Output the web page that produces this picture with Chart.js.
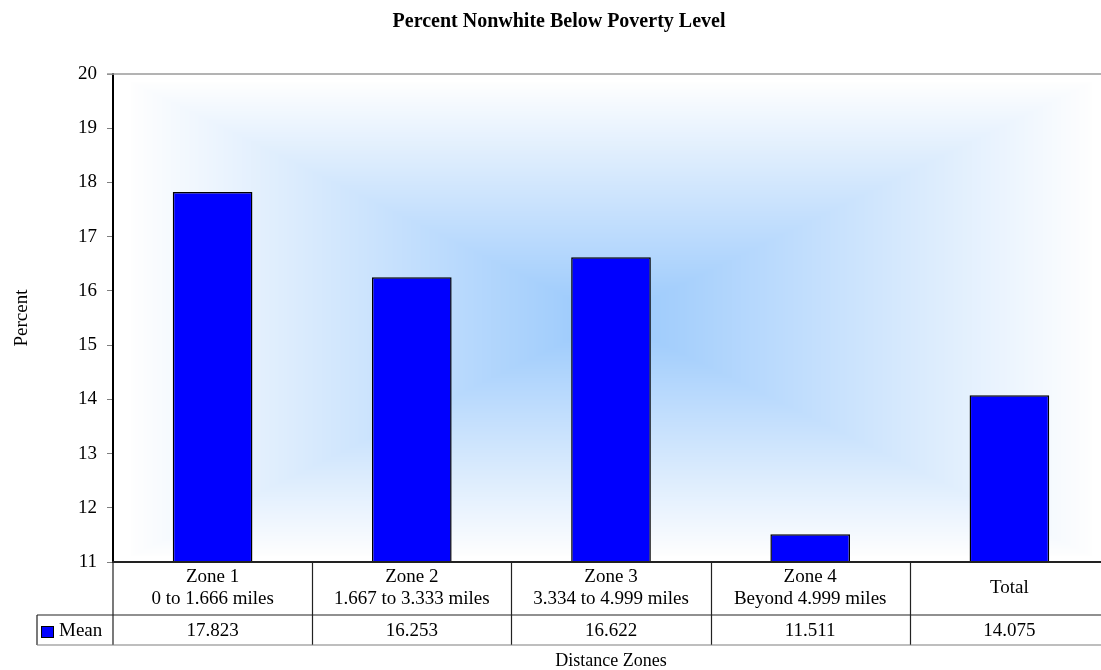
<!DOCTYPE html>
<html>
<head>
<meta charset="utf-8">
<title>Percent Nonwhite Below Poverty Level</title>
<script src="https://cdn.jsdelivr.net/npm/chart.js@4.4.1/dist/chart.umd.min.js"></script>
<style>
  html, body { margin: 0; padding: 0; background: #fff; overflow: hidden; }
  #wrap { width: 1120px; height: 670px; position: relative; }
</style>
</head>
<body>
<div id="wrap"><canvas id="chartPobreza"></canvas></div>
<script>
// --- DATOS ---
const zonas = ["Zone 1", "Zone 2", "Zone 3", "Zone 4", "Total"];
const rangos = ["0 to 1.666 miles", "1.667 to 3.333 miles", "3.334 to 4.999 miles", "Beyond 4.999 miles", ""];
const medias = [17.823, 16.253, 16.622, 11.511, 14.075];
const serieNombre = "Mean";
const yMin = 11, yMax = 20, yPaso = 1;

const FUENTE = '"Liberation Serif", "Times New Roman", serif';

// fondo del area de trazado: degradado rectangular desde el centro
const fondoDegradado = {
    id: 'fondoDegradado',
    beforeDraw(chart) {
        const { ctx, chartArea: a } = chart;
        const x0 = a.left + 18, x1 = a.right - 17, y0 = a.top + 8, y1 = a.bottom - 6;
        const w = Math.round(x1 - x0), h = Math.round(y1 - y0);
        const off = document.createElement('canvas');
        off.width = w; off.height = h;
        const octx = off.getContext('2d');
        const img = octx.createImageData(w, h);
        const cx = w / 2, cy = h / 2;
        const borde = [254, 254, 254], centro = [152, 200, 252];
        for (let y = 0; y < h; y++) {
            for (let x = 0; x < w; x++) {
                const t = Math.max(Math.abs(x + 0.5 - cx) / cx, Math.abs(y + 0.5 - cy) / cy);
                const f = 1 - t;
                const i = (y * w + x) * 4;
                img.data[i] = borde[0] + (centro[0] - borde[0]) * f;
                img.data[i + 1] = borde[1] + (centro[1] - borde[1]) * f;
                img.data[i + 2] = borde[2] + (centro[2] - borde[2]) * f;
                img.data[i + 3] = 255;
            }
        }
        octx.putImageData(img, 0, 0);
        ctx.drawImage(off, x0, y0);
    }
};

// tabla de datos bajo el eje X + linea superior + titulo del eje X
const tablaDatos = {
    id: 'tablaDatos',
    afterDraw(chart) {
        const { ctx, chartArea: a } = chart;
        const n = zonas.length;
        const ancho = (a.right - a.left) / n;
        const r0 = a.bottom, r1 = a.bottom + 53, r2 = a.bottom + 83;
        const leyIzq = 37;

        ctx.save();
        // linea superior del area
        ctx.strokeStyle = '#9a9a9a';
        ctx.lineWidth = 1.5;
        ctx.beginPath();
        ctx.moveTo(a.left - 6, a.top);
        ctx.lineTo(a.right, a.top);
        ctx.stroke();

        // lineas de la tabla
        ctx.strokeStyle = '#222';
        ctx.lineWidth = 2;
        ctx.beginPath();
        ctx.moveTo(a.left - 1, r0); ctx.lineTo(a.right, r0);
        ctx.stroke();

        ctx.lineWidth = 1.2;
        ctx.beginPath();
        ctx.moveTo(leyIzq, r1); ctx.lineTo(a.right, r1);
        ctx.moveTo(leyIzq, r1); ctx.lineTo(leyIzq, r2);
        ctx.moveTo(a.left, r0); ctx.lineTo(a.left, r2);
        for (let k = 1; k < n; k++) {
            const x = Math.round(a.left + k * ancho) + 0.5;
            ctx.moveTo(x, r0); ctx.lineTo(x, r2);
        }
        ctx.stroke();
        ctx.strokeStyle = '#7f7f7f';
        ctx.beginPath();
        ctx.moveTo(leyIzq, r2); ctx.lineTo(a.right, r2);
        ctx.stroke();

        // textos
        ctx.fillStyle = '#000';
        ctx.font = '19px ' + FUENTE;
        ctx.textAlign = 'center';
        ctx.textBaseline = 'middle';
        const xs = chart.scales.x;
        zonas.forEach((z, i) => {
            const cx = xs.getPixelForValue(i);
            if (rangos[i]) {
                ctx.fillText(z, cx, r0 + 15);
                ctx.fillText(rangos[i], cx, r0 + 37);
            } else {
                ctx.fillText(z, cx, (r0 + r1) / 2);
            }
            ctx.fillText(medias[i].toFixed(3), cx, (r1 + r2) / 2 + 1);
        });

        // clave de la leyenda
        ctx.fillStyle = '#0000ff';
        ctx.fillRect(41, r1 + 11, 13, 12);
        ctx.strokeStyle = '#000';
        ctx.lineWidth = 1;
        ctx.strokeRect(41.5, r1 + 11.5, 12, 11);
        ctx.fillStyle = '#000';
        ctx.textAlign = 'left';
        ctx.fillText(serieNombre, 59, (r1 + r2) / 2 + 1);

        // titulo del eje X
        ctx.font = '18px ' + FUENTE;
        ctx.textAlign = 'center';
        ctx.fillText("Distance Zones", (a.left + a.right) / 2, r2 + 16);
        ctx.restore();
    }
};

const chart1 = new Chart(document.getElementById("chartPobreza"), {
    type: "bar",
    data: {
        labels: zonas,
        datasets: [{
            label: serieNombre,
            data: medias,
            backgroundColor: "#0000ff",
            borderColor: "#000",
            borderWidth: 1.5,
            borderSkipped: false,
            barPercentage: 0.4,
            categoryPercentage: 1
        }]
    },
    options: {
        responsive: true,
        maintainAspectRatio: false,
        animation: false,
        layout: { padding: { left: 9, right: 11, top: 0, bottom: 108 } },
        scales: {
            x: { display: false },
            y: {
                min: yMin,
                max: yMax,
                afterFit(scale) { scale.width = 104; },
                ticks: {
                    stepSize: yPaso,
                    color: '#000',
                    padding: 10,
                    font: { family: FUENTE, size: 19 }
                },
                grid: { drawOnChartArea: false, drawTicks: true, tickLength: 6, color: '#7f7f7f' },
                border: { display: true, color: '#000', width: 2 },
                title: {
                    display: true,
                    text: "Percent",
                    color: '#000',
                    padding: { top: 2, bottom: 0 },
                    font: { family: FUENTE, size: 19 }
                }
            }
        },
        plugins: {
            title: {
                display: true,
                text: "Percent Nonwhite Below Poverty Level",
                color: '#000',
                font: { family: FUENTE, size: 20, weight: "bold" },
                padding: { top: 10, bottom: 40 }
            },
            legend: { display: false },
            tooltip: { enabled: false }
        }
    },
    plugins: [fondoDegradado, tablaDatos]
});
</script>
</body>
</html>
